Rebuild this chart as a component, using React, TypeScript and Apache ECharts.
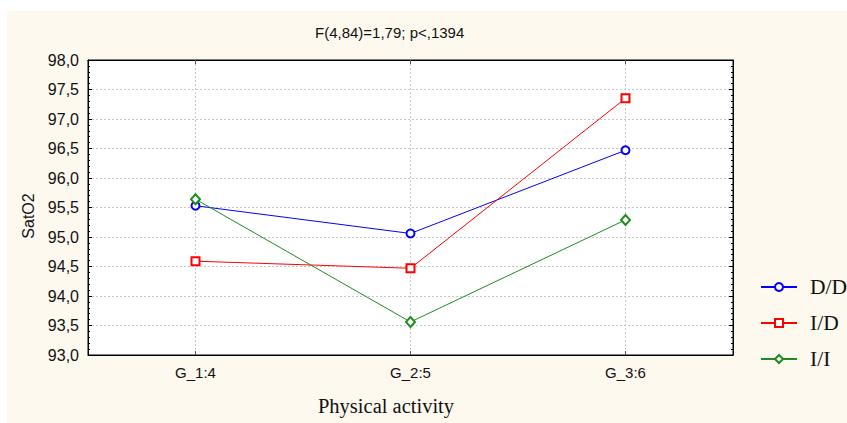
import React, { useEffect, useRef } from "react";
import * as echarts from "echarts";

const categories = ["G_1:4", "G_2:5", "G_3:6"];
const seriesNames = ["D/D", "I/D", "I/I"];
const valuesDD = [95.53, 95.06, 96.47];
const valuesID = [94.59, 94.47, 97.35];
const valuesII = [95.64, 93.56, 95.29];
const titleText = "F(4,84)=1,79; p<,1394";
const yName = "SatO2";
const xName = "Physical activity";

export default function App() {
  const ref = useRef<HTMLDivElement>(null);
  useEffect(() => {
    if (!ref.current) return;
    const chart = echarts.init(ref.current, null, { renderer: "svg" });
    const fmt = (v: number) => v.toFixed(1).replace(".", ",");
    const yBase = {
      type: "value",
      min: 93,
      max: 98,
      interval: 0.5,
      splitNumber: 10,
    };
    const mkSeries = (name: string, data: number[], color: string, symbol: string, size: any) => ({
      name,
      type: "line",
      data,
      symbol,
      symbolSize: size,
      showAllSymbol: true,
      lineStyle: { color, width: 1 },
      itemStyle: { color, borderColor: color, borderWidth: 1.2 },
      emphasis: { disabled: true },
      z: 3,
    });
    chart.setOption({
      animation: false,
      backgroundColor: "#ffffff",
      title: {
        text: titleText,
        left: 315,
        top: 25,
        padding: 0,
        textStyle: { fontFamily: "Liberation Sans, Arial", fontSize: 15, fontWeight: "normal", color: "#111" },
      },
      graphic: [
        {
          type: "rect",
          z: -10,
          silent: true,
          shape: { x: 7, y: 11, width: 840, height: 412 },
          style: { fill: "#FEF9EE" },
        },
        {
          type: "text",
          x: 386,
          y: 406,
          style: {
            text: xName,
            fontFamily: "Liberation Serif, Times New Roman, serif",
            fontSize: 20.5,
            fill: "#111",
            align: "center",
            verticalAlign: "middle",
          },
        },
        {
          type: "text",
          x: 28,
          y: 216,
          rotation: Math.PI / 2,
          style: {
            text: yName,
            fontFamily: "Liberation Sans, Arial",
            fontSize: 16,
            fill: "#111",
            align: "center",
            verticalAlign: "middle",
          },
        },
      ],
      legend: {
        orient: "vertical",
        left: 760,
        top: 276,
        itemWidth: 36,
        itemHeight: 10,
        itemGap: 14,
        padding: 0,
        textStyle: { fontFamily: "Liberation Serif, Times New Roman, serif", fontSize: 21.5, color: "#111", padding: [0, 0, 0, 8] },
        data: seriesNames,
      },
      grid: {
        left: 88,
        top: 60,
        width: 645,
        height: 295,
        show: true,
        backgroundColor: "#ffffff",
        borderColor: "#000",
        borderWidth: 1,
        containLabel: false,
      },
      xAxis: [
        {
          type: "category",
          data: categories,
          boundaryGap: true,
          axisLine: { lineStyle: { color: "#000", width: 1 } },
          axisTick: { show: true, inside: true, alignWithLabel: true, length: 4, lineStyle: { color: "#555" } },
          axisLabel: { fontFamily: "Liberation Sans, Arial", fontSize: 15, color: "#111", margin: 10 },
          splitLine: { show: true, alignWithLabel: true, lineStyle: { color: "#c8c8c8", type: [2, 2], width: 1 } },
        },
        {
          type: "category",
          data: categories,
          position: "top",
          boundaryGap: true,
          axisLine: { lineStyle: { color: "#000", width: 1 } },
          axisTick: { show: true, inside: true, alignWithLabel: true, length: 4, lineStyle: { color: "#555" } },
          axisLabel: { show: false },
          splitLine: { show: false },
        },
      ],
      yAxis: [
        {
          ...yBase,
          axisLine: { show: true, lineStyle: { color: "#000", width: 1 } },
          axisTick: { show: true, inside: true, length: 4, lineStyle: { color: "#000" } },
          minorTick: { show: true, splitNumber: 5, length: 2, lineStyle: { color: "#000" } },
          axisLabel: { fontFamily: "Liberation Sans, Arial", fontSize: 16, color: "#111", margin: 9, formatter: fmt },
          splitLine: { show: true, lineStyle: { color: "#c8c8c8", type: [2, 2], width: 1 } },
        },
        {
          ...yBase,
          position: "right",
          axisLine: { show: true, lineStyle: { color: "#000", width: 1 } },
          axisTick: { show: true, inside: true, length: 4, lineStyle: { color: "#000" } },
          minorTick: { show: true, splitNumber: 5, length: 2, lineStyle: { color: "#000" } },
          axisLabel: { show: false },
          splitLine: { show: false },
        },
      ],
      series: [
        mkSeries(seriesNames[0], valuesDD, "#0000FF", "emptyCircle", 8),
        mkSeries(seriesNames[1], valuesID, "#FF0000", "emptyRect", 8),
        mkSeries(seriesNames[2], valuesII, "#1E8C1E", "emptyDiamond", [9, 10]),
      ],
    });
    return () => chart.dispose();
  }, []);
  return (
    <div
      ref={ref}
      style={{ position: "absolute", left: 0, top: 0, width: 847, height: 423 }}
    />
  );
}
